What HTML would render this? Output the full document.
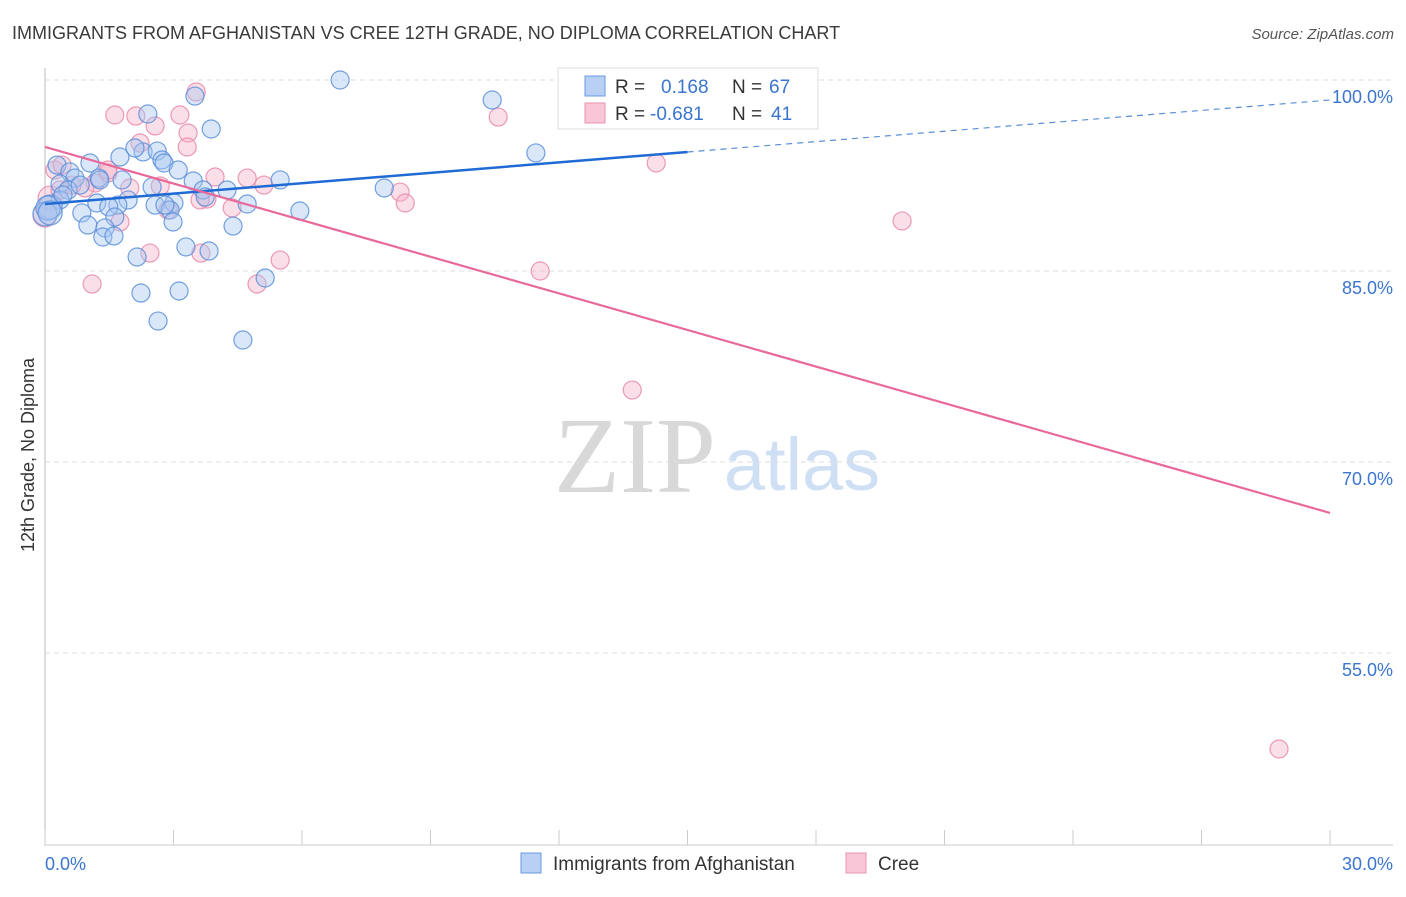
<!DOCTYPE html>
<html><head><meta charset="utf-8"><style>
body{margin:0;background:#fff;width:1406px;height:892px;overflow:hidden;font-family:"Liberation Sans",sans-serif}
</style></head><body>
<svg id="c" width="1406" height="892" style="font-family:'Liberation Sans',sans-serif">
<text x="12" y="39" font-size="18" fill="#3a3a3a">IMMIGRANTS FROM AFGHANISTAN VS CREE 12TH GRADE, NO DIPLOMA CORRELATION CHART</text>
<text x="1394" y="39" font-size="15" fill="#555" font-style="italic" text-anchor="end">Source: ZipAtlas.com</text>
<text x="635" y="492" font-size="108" fill="#d8d8d8" font-family="'Liberation Serif',serif" text-anchor="middle">ZIP</text>
<text x="802" y="490" font-size="74" fill="#cfe0f5" text-anchor="middle">atlas</text>
<text transform="translate(34,455) rotate(-90)" font-size="18" fill="#333" text-anchor="middle">12th Grade, No Diploma</text>
<g id="grid"></g><g id="pts"></g><g id="lines"></g>
<g>
<rect x="558" y="68" width="260" height="61" fill="#fff" stroke="#ddd"/>
<rect x="585" y="76" width="20" height="20" fill="#b7d0f3" stroke="#6b9ae0"/>
<rect x="585" y="103" width="20" height="20" fill="#f8c6d6" stroke="#ec93b2"/>
<text x="615" y="93" font-size="19" fill="#333">R = </text><text x="661" y="93" font-size="19" fill="#3a75d0">0.168</text>
<text x="732" y="93" font-size="19" fill="#333">N = </text><text x="769" y="93" font-size="19" fill="#3a75d0">67</text>
<text x="615" y="120" font-size="19" fill="#333">R = </text><text x="650" y="120" font-size="19" fill="#3a75d0">-0.681</text>
<text x="732" y="120" font-size="19" fill="#333">N = </text><text x="771" y="120" font-size="19" fill="#3a75d0">41</text>
</g>
<g>
<rect x="521" y="853" width="20" height="20" fill="#b7d0f3" stroke="#6b9ae0"/>
<text x="553" y="870" font-size="19" fill="#333">Immigrants from Afghanistan</text>
<rect x="846" y="853" width="20" height="20" fill="#f8c6d6" stroke="#ec93b2"/>
<text x="878" y="870" font-size="19" fill="#333">Cree</text>
</g>
</svg>
<script>
const xTickLabels=["0.0%","30.0%"];
const yTicks=[100,85,70,55];
const blueX=[6.89,3.50,10.44,2.40,3.88,11.46,1.75,2.29,2.62,2.10,2.73,2.78,3.11,1.05,0.28,0.58,0.70,1.26,1.80,3.46,5.49,2.50,0.35,0.54,0.82,3.69,4.25,7.92,3.74,1.94,1.21,1.70,2.57,3.01,4.72,1.49,0.35,0.12,0.0,0.86,5.95,2.92,2.80,1.63,4.39,1.00,1.40,2.99,1.35,1.61,3.29,3.83,2.15,5.14,2.24,3.13,2.64,4.62,0.07,0.12,0.42,1.28];
const blueY=[100.0,98.74,98.43,97.33,96.15,94.27,93.95,94.35,94.42,94.66,93.72,93.48,92.93,93.48,93.32,92.78,92.30,92.30,92.15,92.07,92.15,91.60,91.83,91.36,91.75,91.36,91.36,91.52,90.81,90.58,90.34,90.18,90.18,90.34,90.26,90.03,90.58,90.03,89.48,89.56,89.71,89.79,90.18,89.24,88.53,88.61,88.38,88.85,87.67,87.75,86.89,86.57,86.10,84.45,83.27,83.43,81.07,79.58,89.95,89.56,90.97,92.15];
const pinkX=[3.53,1.63,2.12,3.15,2.57,10.58,3.34,3.32,2.22,14.27,0.23,0.40,1.47,1.17,1.98,2.69,3.97,4.72,5.11,8.29,8.41,2.87,3.78,4.37,1.75,0.93,0.12,20.01,2.45,3.64,5.49,4.95,11.56,1.10,13.71,28.81,0.35,0.63,1.47,3.62,0.0];
const pinkY=[99.06,97.25,97.17,97.25,96.39,97.09,95.84,94.74,95.05,93.48,92.93,93.32,92.70,91.91,91.52,91.68,92.38,92.30,91.75,91.20,90.34,89.79,90.65,89.95,88.85,91.52,90.73,88.93,86.41,86.41,85.86,83.98,85.00,83.98,75.65,47.46,91.36,91.75,92.93,90.58,89.40];
const blueTrend=[90.26,98.43];
const pinkTrend=[94.74,66.0];
const NS="http://www.w3.org/2000/svg";
const X=v=>45+v/30*1285, Y=v=>80+(100-v)/15*191;
function mk(t,a,p){const e=document.createElementNS(NS,t);for(const k in a)e.setAttribute(k,a[k]);p.appendChild(e);return e;}
const g=document.getElementById('grid');
let ax=mk('line',{x1:45,y1:68,x2:45,y2:846,stroke:'#bbb'},g);


let bx=mk('line',{x1:45,y1:845,x2:1393,y2:845,stroke:'#ccc'},g);


yTicks.forEach(v=>{
 const l=mk('line',{x1:45,y1:Y(v),x2:1393,y2:Y(v),stroke:'#ddd','stroke-dasharray':'5,4'},g);
 
 
 const t=mk('text',{x:1393,y:Y(v)+23,'font-size':18,fill:'#3a75d0','text-anchor':'end'},g);t.textContent=v.toFixed(1)+'%';
 
 
});
for(let i=0;i<=10;i++){const l=mk('line',{x1:X(i*3),y1:830,x2:X(i*3),y2:845,stroke:'#ccc'},g);
 
 }
[[0,'start',45],[30,'end',1393]].forEach((d,i)=>{const t=mk('text',{x:d[2],y:870,'font-size':18,fill:'#3a75d0','text-anchor':d[1]},g);t.textContent=xTickLabels[i];
 
 });
const P=document.getElementById('pts');
function dots(xs,ys,f,s,n){xs.forEach((x,i)=>{const c=mk('circle',{cx:X(x),cy:Y(ys[i]),r:x<0.2?12:9,fill:f,'fill-opacity':0.42,stroke:s,'stroke-width':1.2,'stroke-opacity':0.85},P);
 
 });}
dots(pinkX,pinkY,'#f5b3c9','#e88aa8','cree-point');
dots(blueX,blueY,'#a6c5f0','#5b8fd9','afghanistan-point');
const L=document.getElementById('lines');
const bs=(blueTrend[1]-blueTrend[0])/30;
let b1=mk('line',{x1:X(0),y1:Y(blueTrend[0]),x2:X(15),y2:Y(blueTrend[0]+bs*15),stroke:'#1f6ad4','stroke-width':2.5},L);


let b2=mk('line',{x1:X(15),y1:Y(blueTrend[0]+bs*15),x2:X(30),y2:Y(blueTrend[1]),stroke:'#5b8fd9','stroke-width':1.2,'stroke-dasharray':'6,5'},L);


let p1=mk('line',{x1:X(0),y1:Y(pinkTrend[0]),x2:X(30),y2:Y(pinkTrend[1]),stroke:'#e8699a','stroke-width':2.2},L);


</script>
</body></html>
